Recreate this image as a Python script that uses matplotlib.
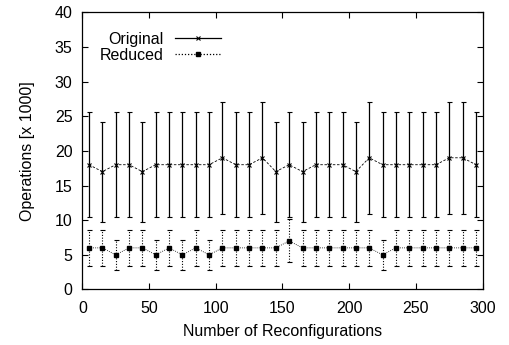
import numpy as np
import matplotlib
matplotlib.use('Agg')
import matplotlib.pyplot as plt
from matplotlib.lines import Line2D

plt.rcParams['font.family'] = ['Liberation Sans', 'DejaVu Sans']
FS = 11.5

# data (operations in thousands)
reconf = [5, 15, 25, 35, 45, 55, 65, 75, 85, 95, 105, 115, 125, 135, 145,
          155, 165, 175, 185, 195, 205, 215, 225, 235, 245, 255, 265, 275, 285, 295]
orig_mean = [18, 17, 18, 18, 17, 18, 18, 18, 18, 18, 19, 18, 18, 19, 17,
             18, 17, 18, 18, 18, 17, 19, 18, 18, 18, 18, 18, 19, 19, 18]
orig_err = [7.6, 7.2, 7.6, 7.6, 7.2, 7.6, 7.6, 7.6, 7.6, 7.6, 8.1, 7.6, 7.6, 8.1, 7.2,
            7.6, 7.2, 7.6, 7.6, 7.6, 7.2, 8.1, 7.6, 7.6, 7.6, 7.6, 7.6, 8.1, 8.1, 7.6]
red_mean = [6, 6, 5, 6, 6, 5, 6, 5, 6, 5, 6, 6, 6, 6, 6,
            7, 6, 6, 6, 6, 6, 6, 5, 6, 6, 6, 6, 6, 6, 6]
red_err = [2.6, 2.6, 2.2, 2.6, 2.6, 2.2, 2.6, 2.2, 2.6, 2.2, 2.6, 2.6, 2.6, 2.6, 2.6,
           3.1, 2.6, 2.6, 2.6, 2.6, 2.6, 2.6, 2.2, 2.6, 2.6, 2.6, 2.6, 2.6, 2.6, 2.6]

fig = plt.figure(figsize=(5.1, 3.45), dpi=100)
ax = fig.add_axes([0.1614, 0.161, 0.785, 0.8035])

ax.errorbar(reconf, orig_mean, yerr=orig_err, fmt='x', color='black', ms=3.5, mew=0.8,
            elinewidth=0.9, capsize=1.8, capthick=0.8)
ax.plot(reconf, orig_mean, ls=(0, (3, 2)), color='black', lw=0.6)
eb2 = ax.errorbar(reconf, red_mean, yerr=red_err, fmt='s', color='black', ms=3.5,
                  elinewidth=0.8, capsize=1.8, capthick=0.8)
eb2[2][0].set_linestyle((0, (1, 1.5)))
ax.plot(reconf, red_mean, ls=(0, (1, 1.5)), color='black', lw=0.6)

ax.set_xlim(0, 300)
ax.set_ylim(0, 40)
ax.set_xticks(np.arange(0, 301, 50))
ax.set_yticks(np.arange(0, 41, 5))
ax.tick_params(direction='in', top=True, right=True, labelsize=FS, length=4, width=0.8)
ax.tick_params(axis='y', pad=7)
ax.tick_params(axis='x', pad=8)
for s in ax.spines.values():
    s.set_linewidth(0.9)
ax.set_xlabel('Number of Reconfigurations', fontsize=FS, labelpad=6)
ax.set_ylabel('Operations [x 1000]', fontsize=FS, labelpad=14)

handles = [Line2D([], [], color='black', lw=0.9, marker='x', ms=3.5, mew=0.8),
           Line2D([], [], color='black', lw=0.9, ls=(0, (1, 1.5)), marker='s', ms=3.5)]
ax.legend(handles, ['Original', 'Reduced'], loc='upper left', bbox_to_anchor=(0.012, 0.975),
          frameon=False, markerfirst=False, handlelength=2.9, fontsize=FS,
          labelspacing=0.05, borderpad=0.3, handletextpad=0.7)

fig.savefig('out.png', dpi=100)
